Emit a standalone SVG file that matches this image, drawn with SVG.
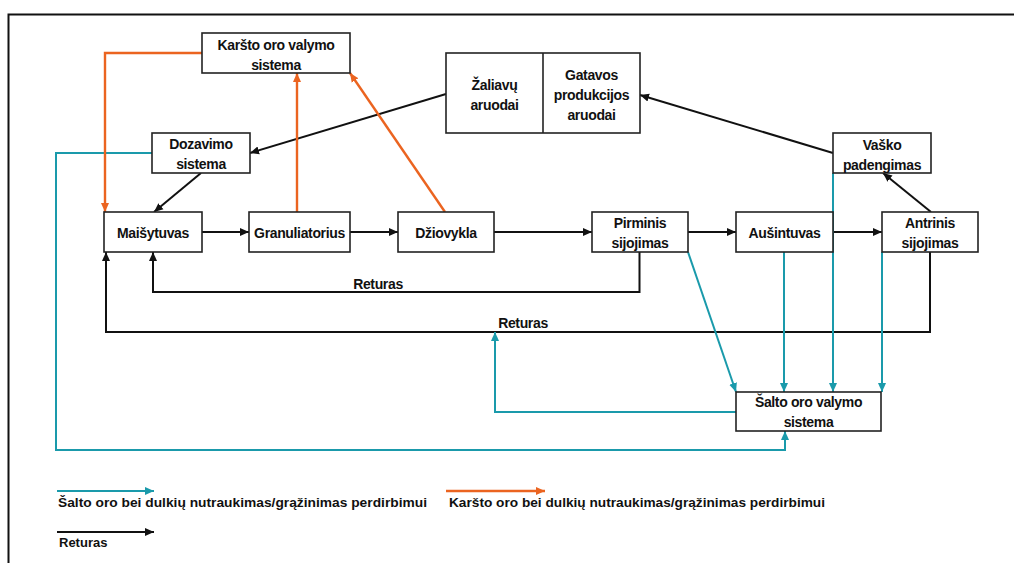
<svg xmlns="http://www.w3.org/2000/svg" width="1014" height="563" viewBox="0 0 1014 563">
<style>
.box{fill:#fff;stroke:#222;stroke-width:1.6}
.t{font-family:"Liberation Sans",Arial,sans-serif;font-weight:bold;font-size:14px;letter-spacing:-0.35px;fill:#111;text-anchor:middle}
.lg{font-family:"Liberation Sans",Arial,sans-serif;font-weight:bold;font-size:13px;fill:#111}
.k{fill:none;stroke:#111;stroke-width:2}
.c{fill:none;stroke:#1a9aab;stroke-width:2}
.o{fill:none;stroke:#eb6420;stroke-width:2.4}
</style>
<defs>
<marker id="ak" markerUnits="userSpaceOnUse" markerWidth="10" markerHeight="10" refX="9" refY="5" orient="auto"><path d="M0,1 L9,5 L0,9 Z" fill="#111"/></marker>
<marker id="ac" markerUnits="userSpaceOnUse" markerWidth="10" markerHeight="10" refX="9" refY="5" orient="auto"><path d="M0,1 L9,5 L0,9 Z" fill="#1a9aab"/></marker>
<marker id="ao" markerUnits="userSpaceOnUse" markerWidth="10" markerHeight="10" refX="9" refY="5" orient="auto"><path d="M0,1 L9,5 L0,9 Z" fill="#eb6420"/></marker>
</defs>
<rect width="1014" height="563" fill="#fff"/>
<path d="M8.5,563 V14.5 H1014" fill="none" stroke="#111" stroke-width="2"/>

<g id="connectors">
  <path class="k" d="M446,94 L250,153" marker-end="url(#ak)"/>
  <path class="k" d="M201,173 L154,212" marker-end="url(#ak)"/>
  <path class="k" d="M202,232 L249,232" marker-end="url(#ak)"/>
  <path class="k" d="M350,232 L398,232" marker-end="url(#ak)"/>
  <path class="k" d="M494,232 L592,232" marker-end="url(#ak)"/>
  <path class="k" d="M688,232 L736,232" marker-end="url(#ak)"/>
  <path class="k" d="M833,232 L882,232" marker-end="url(#ak)"/>
  <path class="k" d="M931,212 L883,173" marker-end="url(#ak)"/>
  <path class="k" d="M833,153 L640,95" marker-end="url(#ak)"/>
  <path class="k" d="M639.5,252 V292 H153 V252" marker-end="url(#ak)"/>
  <path class="k" d="M930,252 V332 H106 V252" marker-end="url(#ak)"/>
  <text class="t" x="378" y="289">Returas</text>
  <text class="t" x="523" y="328">Returas</text>

  <path class="c" d="M152,153 H56 V450 H785 V431" marker-end="url(#ac)"/>
  <path class="c" d="M736,412 H495 V332" marker-end="url(#ac)"/>
  <path class="c" d="M688,252 L736,392" marker-end="url(#ac)"/>
  <path class="c" d="M784,252 V392" marker-end="url(#ac)"/>
  <path class="c" d="M833,173 V392" marker-end="url(#ac)"/>
  <path class="c" d="M882,252 V392" marker-end="url(#ac)"/>

  <path class="o" d="M202,53 H105 V212" marker-end="url(#ao)"/>
  <path class="o" d="M297,212 V73" marker-end="url(#ao)"/>
  <path class="o" d="M445,212 L350,73" marker-end="url(#ao)"/>
</g>

<g id="karsto">
  <rect class="box" x="202" y="33" width="148" height="40"/>
  <text class="t" x="276" y="50">Karšto oro valymo</text>
  <text class="t" x="276" y="70">sistema</text>
</g>
<g id="dozavimo">
  <rect class="box" x="152" y="133" width="98" height="40"/>
  <text class="t" x="201" y="149">Dozavimo</text>
  <text class="t" x="201" y="169">sistema</text>
</g>
<g id="maisytuvas">
  <rect class="box" x="104" y="212" width="98" height="40"/>
  <text class="t" x="153" y="238">Maišytuvas</text>
</g>
<g id="granuliatorius">
  <rect class="box" x="249" y="212" width="101" height="40"/>
  <text class="t" x="299.5" y="238">Granuliatorius</text>
</g>
<g id="dziovykla">
  <rect class="box" x="398" y="212" width="96" height="40"/>
  <text class="t" x="446" y="238">Džiovykla</text>
</g>
<g id="aruodai">
  <rect class="box" x="446" y="53" width="194" height="80"/>
  <line x1="543" y1="53" x2="543" y2="133" stroke="#222" stroke-width="1.6"/>
  <text class="t" x="494.5" y="90">Žaliavų</text>
  <text class="t" x="494.5" y="110">aruodai</text>
  <text class="t" x="591.5" y="80">Gatavos</text>
  <text class="t" x="591.5" y="100">produkcijos</text>
  <text class="t" x="591.5" y="120">aruodai</text>
</g>
<g id="vasko">
  <rect class="box" x="833" y="133" width="98" height="40"/>
  <text class="t" x="882" y="150">Vaško</text>
  <text class="t" x="882" y="170">padengimas</text>
</g>
<g id="pirminis">
  <rect class="box" x="592" y="212" width="96" height="40"/>
  <text class="t" x="640" y="228">Pirminis</text>
  <text class="t" x="640" y="248">sijojimas</text>
</g>
<g id="ausintuvas">
  <rect class="box" x="736" y="212" width="97" height="40"/>
  <text class="t" x="784.5" y="238">Aušintuvas</text>
</g>
<g id="antrinis">
  <rect class="box" x="882" y="212" width="96" height="40"/>
  <text class="t" x="930" y="228">Antrinis</text>
  <text class="t" x="930" y="248">sijojimas</text>
</g>
<g id="salto">
  <rect class="box" x="736" y="392" width="145" height="39"/>
  <text class="t" x="808.5" y="407">Šalto oro valymo</text>
  <text class="t" x="808.5" y="427">sistema</text>
</g>

<g id="legend">
  <path class="c" d="M57,491 H154" marker-end="url(#ac)"/>
  <text class="lg" x="58" y="507" textLength="369" lengthAdjust="spacingAndGlyphs">Šalto oro bei dulkių nutraukimas/grąžinimas perdirbimui</text>
  <path class="o" d="M446,491 H545" marker-end="url(#ao)"/>
  <text class="lg" x="449" y="507" textLength="376" lengthAdjust="spacingAndGlyphs">Karšto oro bei dulkių nutraukimas/grąžinimas perdirbimui</text>
  <path class="k" d="M57,532 H154" marker-end="url(#ak)"/>
  <text class="lg" x="59" y="547">Returas</text>
</g>
</svg>
